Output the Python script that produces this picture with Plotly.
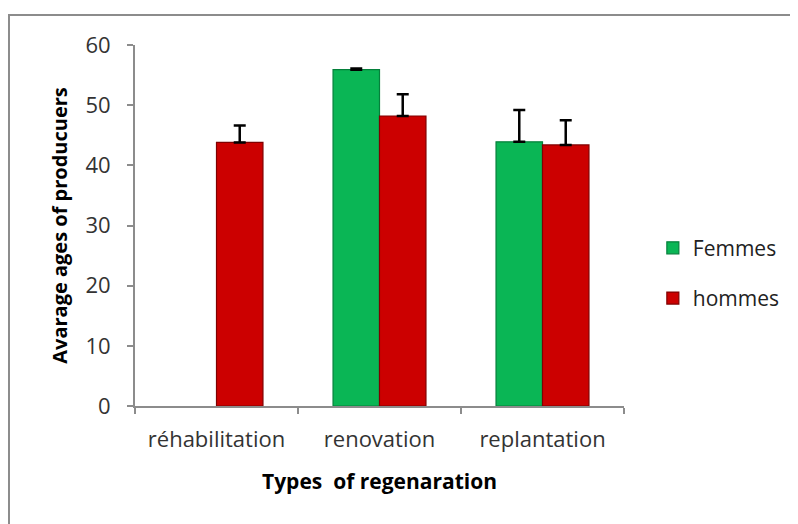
import plotly.graph_objects as go

categories = ["réhabilitation", "renovation", "replantation"]
femmes = [None, 55.9, 43.9]
femmes_err = [None, 0.2, 5.3]
hommes = [43.8, 48.2, 43.4]
hommes_err = [2.8, 3.6, 4.1]
y_ticks = [0, 10, 20, 30, 40, 50, 60]

FONT = "Open Sans"

fig = go.Figure()
fig.add_trace(go.Bar(
    name="Femmes", x=categories, y=femmes,
    marker=dict(color="#0AB655", line=dict(color="#05803b", width=1.2)),
    error_y=dict(type="data", array=femmes_err, symmetric=False, arrayminus=[0, 0, 0],
                 color="black", thickness=2.5, width=6),
    legendgroup="f",
))
fig.add_trace(go.Bar(
    name="hommes", x=categories, y=hommes,
    marker=dict(color="#CC0000", line=dict(color="#800000", width=1.2)),
    error_y=dict(type="data", array=hommes_err, symmetric=False, arrayminus=[0, 0, 0],
                 color="black", thickness=2.5, width=6),
    legendgroup="h",
))

fig.update_layout(
    width=798, height=524,
    margin=dict(l=127, r=182, t=37, b=126),
    paper_bgcolor="white", plot_bgcolor="white",
    barmode="group", bargap=0.43, bargroupgap=0,
    font=dict(family=FONT, size=21, color="#333333"),
    showlegend=True,
    legend=dict(x=1.059, y=0.368, xanchor="left", yanchor="middle",
                font=dict(size=21, color="#222222"), tracegroupgap=20,
                bgcolor="rgba(0,0,0,0)", itemwidth=30),
    shapes=[dict(type="rect", xref="paper", yref="paper",
                 x0=-0.2577, y0=-0.5, x1=1.6, y1=1.0831,
                 line=dict(color="#8c8c8c", width=2), layer="below")],
)
fig.update_xaxes(
    showline=True, linecolor="#8c8c8c", linewidth=2,
    ticks="outside", tickson="boundaries", ticklen=6, tickcolor="#8c8c8c", tickwidth=2,
    tickfont=dict(size=22, color="#333333"), ticklabelstandoff=13,
    title=dict(text="<b>Types  of regenaration</b>", font=dict(size=21, color="black"), standoff=22),
)
fig.update_yaxes(
    range=[0, 60], tickvals=y_ticks, showgrid=False, zeroline=False,
    showline=True, linecolor="#8c8c8c", linewidth=2,
    ticks="outside", ticklen=6, tickcolor="#8c8c8c", tickwidth=2,
    tickfont=dict(size=22, color="#333333"), ticklabelstandoff=12,
    title=dict(text="<b>Avarage ages of producuers</b>", font=dict(size=20, color="black"), standoff=12),
)

fig.write_html("out.html")
